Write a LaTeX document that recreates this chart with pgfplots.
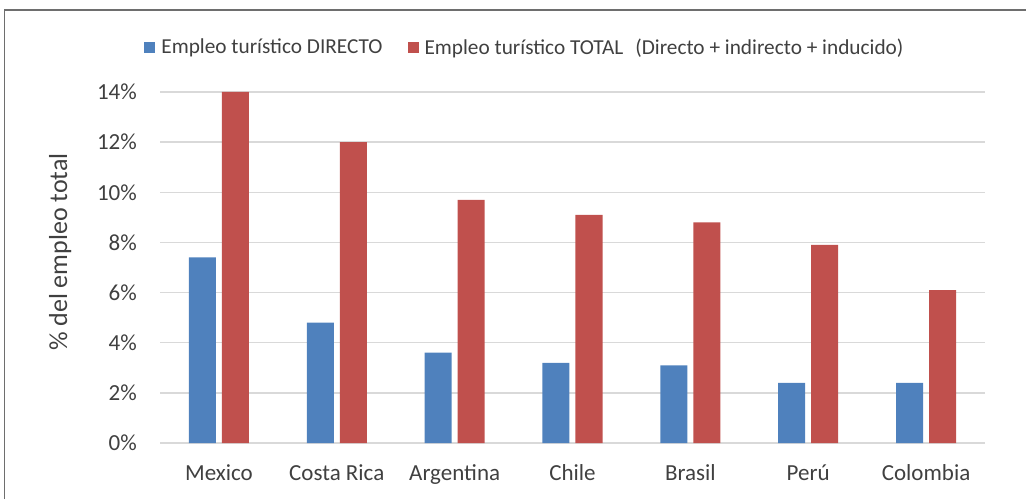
\documentclass[border=0pt]{standalone}
\usepackage{pgfplots}
\pgfplotsset{compat=1.18}
\usepackage{fontspec}
\setmainfont{Carlito}
\definecolor{cblue}{HTML}{4F81BD}
\definecolor{cred}{HTML}{C0504D}
\definecolor{cgrid}{HTML}{D9D9D9}
\definecolor{ctext}{HTML}{404040}
\definecolor{cframe}{HTML}{6E6E6E}
\begin{document}
\begin{tikzpicture}[x=1pt,y=1pt]
\path[use as bounding box] (0,0) rectangle (1026,499);
\draw[cframe, line width=1.3pt] (4.5,0) -- (4.5,489) -- (1026,489);
\begin{axis}[
  at={(160pt,56pt)}, anchor=south west,
  scale only axis, width=825pt, height=351pt,
  xmin=-0.5, xmax=6.5, ymin=0, ymax=14,
  ybar, bar width=27pt,
  xtick={0,1,2,3,4,5,6},
  xticklabels={Mexico,Costa Rica,Argentina,Chile,Brasil,Perú,Colombia},
  ytick={0,2,4,6,8,10,12,14},
  yticklabel={\pgfmathprintnumber{\tick}\%},
  /pgf/number format/assume math mode=true,
  major tick length=0pt,
  axis line style={draw=none},
  ymajorgrids, grid style={cgrid, line width=1.5pt},
  tick label style={font=\fontsize{23}{27}\selectfont, text=ctext},
  yticklabel style={inner sep=0pt, xshift=-23pt},
  xticklabel style={inner sep=0pt, text height=15pt, text depth=5pt, yshift=-22pt},
  ylabel={\% del empleo total},
  ylabel style={font=\fontsize{26}{30}\selectfont, text=ctext, at={(axis description cs:-0.121,0.544)}, anchor=center},
  legend columns=2,
  legend style={draw=none, fill=none, at={(axis description cs:0.443,1.128)}, anchor=center,
    font=\fontsize{21.3}{25}\selectfont, text=ctext,
    /tikz/every even column/.append style={column sep=22pt},
    nodes={inner sep=3pt}},
  legend image code/.code={\fill[#1] (0pt,-5.5pt) rectangle (11pt,5.5pt); \path (14pt,0pt);},
  clip=false,
]
\addplot[fill=cblue, draw=none, bar shift=-16.5pt] coordinates {(0,7.4) (1,4.8) (2,3.6) (3,3.2) (4,3.1) (5,2.4) (6,2.4)};
\addplot[fill=cred, draw=none, bar shift=16.5pt] coordinates {(0,14.0) (1,12.0) (2,9.7) (3,9.1) (4,8.8) (5,7.9) (6,6.1)};
\legend{Empleo turístico DIRECTO, Empleo turístico TOTAL\hspace{12pt}(Directo + indirecto + inducido)}
\end{axis}
\end{tikzpicture}
\end{document}
